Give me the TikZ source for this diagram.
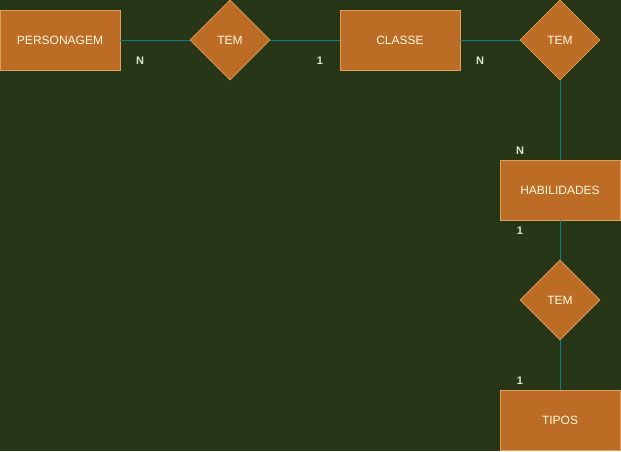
\documentclass[tikz,border=0pt]{standalone}
\usepackage{fontspec}
\setmainfont{Liberation Sans}
\usetikzlibrary{shapes.geometric}
\definecolor{bgc}{HTML}{283618}
\definecolor{fillc}{HTML}{BC6C25}
\definecolor{strokec}{HTML}{DDA15E}
\definecolor{txtc}{HTML}{FEFAE0}
\definecolor{linec}{HTML}{0E8088}
\definecolor{lblc}{HTML}{D8E8C8}
\begin{document}
\begin{tikzpicture}[x=1pt,y=-1pt,
  ent/.style={draw=strokec,fill=fillc,text=txtc,minimum width=120pt,minimum height=60pt,inner sep=0pt,font=\fontsize{12}{14}\selectfont,line width=0.8pt},
  rel/.style={draw=strokec,fill=fillc,text=txtc,diamond,minimum width=80pt,minimum height=80pt,inner sep=0pt,aspect=1,font=\fontsize{12}{14}\selectfont,line width=0.8pt},
  conn/.style={draw=linec,line width=0.8pt},
  card/.style={text=lblc,font=\bfseries\fontsize{11}{13}\selectfont,inner sep=0pt}]
\fill[bgc] (0,0) rectangle (621,451);
\useasboundingbox (0,0) rectangle (621,451);
\node[ent] (pers) at (60,40) {PERSONAGEM};
\node[rel] (tem1) at (230,40) {TEM};
\node[ent] (classe) at (400,40) {CLASSE};
\node[rel] (tem2) at (560,40) {TEM};
\node[ent] (hab) at (560,190) {HABILIDADES};
\node[rel] (tem3) at (560,300) {TEM};
\node[ent] (tipos) at (560,420) {TIPOS};
\draw[conn] (pers.east) -- (tem1.west);
\draw[conn] (tem1.east) -- (classe.west);
\draw[conn] (classe.east) -- (tem2.west);
\draw[conn] (tem2.south) -- (hab.north);
\draw[conn] (hab.south) -- (tem3.north);
\draw[conn] (tem3.south) -- (tipos.north);
\node[card] (c1) at (140,61) {N};
\node[card] (c2) at (320,61) {1};
\node[card] (c3) at (480,61) {N};
\node[card] (c4) at (520,151) {N};
\node[card] (c5) at (520,231) {1};
\node[card] (c6) at (520,381) {1};
\end{tikzpicture}
\end{document}
